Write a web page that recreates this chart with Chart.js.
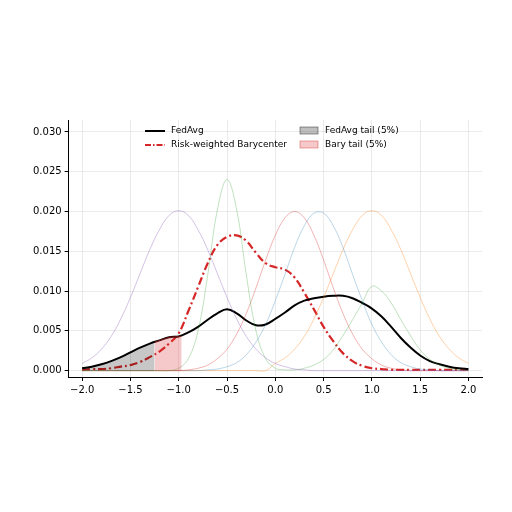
<!DOCTYPE html>
<html><head><meta charset="utf-8">
<script src="https://cdn.jsdelivr.net/npm/chart.js@4"></script>
<style>body{margin:0;background:#fff}#wrap{width:512px;height:512px}</style>
</head><body><div id="wrap"><canvas id="c"></canvas></div>
<script>
const xs = [-2,-1.9,-1.8,-1.7,-1.6,-1.5,-1.4,-1.3,-1.2,-1.1,-1,-0.9,-0.8,-0.7,-0.6,-0.5,-0.4,-0.3,-0.2,-0.1,0,0.1,0.2,0.3,0.4,0.5,0.6,0.7,0.8,0.9,1,1.1,1.2,1.3,1.4,1.5,1.6,1.7,1.8,1.9,2];
const purple = [.0009,.0016,.0027,.0043,.0065,.0092,.0122,.0152,.0177,.0195,.0201,.0195,.0177,.0152,.0122,.0092,.0065,.0043,.0027,.0016,.0009,.0005,.0002,.0001,0,0,0,0,0,0,0,0,0,0,0,0,0,0,0,0,0];
const green = [0,0,0,0,0,0,0,0,0,0,.0003,.0015,.005,.012,.0202,.024,.0202,.012,.005,.0015,.0003,.0001,.0001,.0003,.0007,.0014,.0026,.0044,.0064,.0085,.0106,.0100,.0085,.0064,.0044,.0026,.0014,.0007,.0003,.0001,0];
const red = [0,0,0,0,0,0,0,0,0,0,0,.0001,.0003,.0007,.0015,.0027,.0046,.0072,.0104,.0139,.0170,.0192,.0200,.0192,.0170,.0139,.0104,.0072,.0046,.0027,.0015,.0007,.0003,.0001,0,0,0,0,0,0,0];
const blue = [0,0,0,0,0,0,0,0,0,0,0,0,0,.0001,.0002,.0005,.001,.002,.0036,.0058,.0088,.0121,.0155,.0182,.0198,.0198,.0182,.0155,.0121,.0088,.0058,.0036,.002,.001,.0005,.0002,.0001,0,0,0,0];
const orange = [0,0,0,0,0,0,0,0,0,0,0,0,0,0,0,0,0,0,0,0,.0009,.0016,.0027,.0043,.0065,.0092,.0122,.0152,.0177,.0195,.0201,.0195,.0177,.0152,.0122,.0092,.0065,.0043,.0027,.0016,.0009];
const fedavg = [.0003,.0005,.0008,.0012,.0017,.0023,.0029,.0034,.0038,.0042,.0043,.0048,.0055,.0064,.0072,.0077,.0072,.0063,.0057,.0058,.0065,.0073,.0082,.0088,.0091,.0093,.0094,.0094,.0091,.0085,.0078,.0068,.0055,.0041,.0029,.0019,.0012,.0008,.0005,.0003,.0002];
const bary = [.0001,.0002,.0002,.0003,.0005,.0007,.0011,.0017,.0024,.0034,.0047,.0075,.0105,.0135,.0158,.0168,.0170,.0163,.0148,.0135,.0130,.0127,.0117,.0098,.0077,.0055,.0037,.0022,.0012,.0006,.0003,.0002,.0001,.0001,.0001,.0001,.0001,.0001,.0001,.0001,.0001];
const fedTailX = [-2,-1.9,-1.8,-1.7,-1.6,-1.5,-1.4,-1.3,-1.25];
const fedTailY = [.0003,.0005,.0008,.0012,.0017,.0023,.0029,.0034,.0036];
const baryTailX = [-1.25,-1.2,-1.1,-1.0,-0.97];
const baryTailY = [.0036,.0038,.0042,.0043,.0043];
const xTicks = [-2,-1.5,-1,-0.5,0,0.5,1,1.5,2];
const yTicks = [0,0.005,0.01,0.015,0.02,0.025,0.03];

const pts = arr => xs.map((x,i)=>({x, y: arr[i]}));
const bg = (arr,col) => ({data: pts(arr), borderColor: col, borderWidth: 1, pointRadius: 0, tension: 0.4, fill: false});

const legendPlugin = {
  id: 'leg',
  afterDraw(chart) {
    const c = chart.ctx, a = chart.chartArea;
    c.save();
    c.font = '9px "DejaVu Sans"';
    c.textBaseline = 'middle';
    c.fillStyle = '#000';
    const y1 = a.top + 11, y2 = a.top + 25;
    c.lineWidth = 2; c.strokeStyle = '#000';
    c.beginPath(); c.moveTo(145, y1); c.lineTo(165, y1); c.stroke();
    c.fillText('FedAvg', 171, y1);
    c.strokeStyle = '#d62728'; c.setLineDash([6,2,1.5,2]);
    c.beginPath(); c.moveTo(145, y2); c.lineTo(165, y2); c.stroke();
    c.setLineDash([]);
    c.fillText('Risk-weighted Barycenter', 171, y2);
    c.fillStyle = 'rgba(0,0,0,0.25)'; c.strokeStyle = 'rgba(0,0,0,0.4)'; c.lineWidth = 1;
    c.fillRect(300, y1-4, 18, 7); c.strokeRect(300, y1-4, 18, 7);
    c.fillStyle = 'rgba(214,39,40,0.25)'; c.strokeStyle = 'rgba(214,39,40,0.4)';
    c.fillRect(300, y2-4, 18, 7); c.strokeRect(300, y2-4, 18, 7);
    c.fillStyle = '#000';
    c.fillText('FedAvg tail (5%)', 325, y1);
    c.fillText('Bary tail (5%)', 325, y2);
    c.restore();
  }
};

new Chart(document.getElementById('c'), {
  type: 'line',
  data: {
    datasets: [
      {data: fedTailX.map((x,i)=>({x, y: fedTailY[i]})), borderColor: 'rgba(0,0,0,0.4)', borderWidth: 1, backgroundColor: 'rgba(0,0,0,0.22)', pointRadius: 0, fill: 'origin'},
      {data: baryTailX.map((x,i)=>({x, y: baryTailY[i]})), borderColor: 'rgba(214,39,40,0.5)', borderWidth: 1, backgroundColor: 'rgba(214,39,40,0.25)', pointRadius: 0, fill: 'origin'},
      bg(purple, 'rgba(148,103,189,0.4)'),
      bg(green, 'rgba(44,160,44,0.3)'),
      bg(red, 'rgba(214,39,40,0.35)'),
      bg(blue, 'rgba(31,119,180,0.3)'),
      bg(orange, 'rgba(255,127,14,0.35)'),
      {data: pts(fedavg), borderColor: '#000', borderWidth: 2, pointRadius: 0, tension: 0.4, fill: false},
      {data: pts(bary), borderColor: '#d62728', borderWidth: 2.2, borderDash: [8,3,2,3], pointRadius: 0, tension: 0.4, fill: false}
    ]
  },
  options: {
    animation: false, responsive: true, maintainAspectRatio: false,
    layout: {padding: {top: 120, bottom: 113, right: 30, left: 30}},
    plugins: {legend: {display: false}, tooltip: {enabled: false}},
    scales: {
      x: {type: 'linear', min: -2.14, max: 2.14,
          afterBuildTicks: ax => { ax.ticks = xTicks.map(v=>({value:v})); },
          ticks: {color: '#000', font: {size: 10, family: 'DejaVu Sans'}, callback: v => v.toFixed(1).replace('-', '\u2212')},
          grid: {color: 'rgba(0,0,0,0.08)', tickColor: '#000', tickLength: 4},
          border: {color: '#000'}},
      y: {min: -0.0008, max: 0.0315,
          afterBuildTicks: ax => { ax.ticks = yTicks.map(v=>({value:v})); },
          ticks: {color: '#000', font: {size: 10, family: 'DejaVu Sans'}, callback: v => v.toFixed(3)},
          grid: {color: 'rgba(0,0,0,0.08)', tickColor: '#000', tickLength: 4},
          border: {color: '#000'}}
    }
  },
  plugins: [legendPlugin]
});
</script></body></html>
